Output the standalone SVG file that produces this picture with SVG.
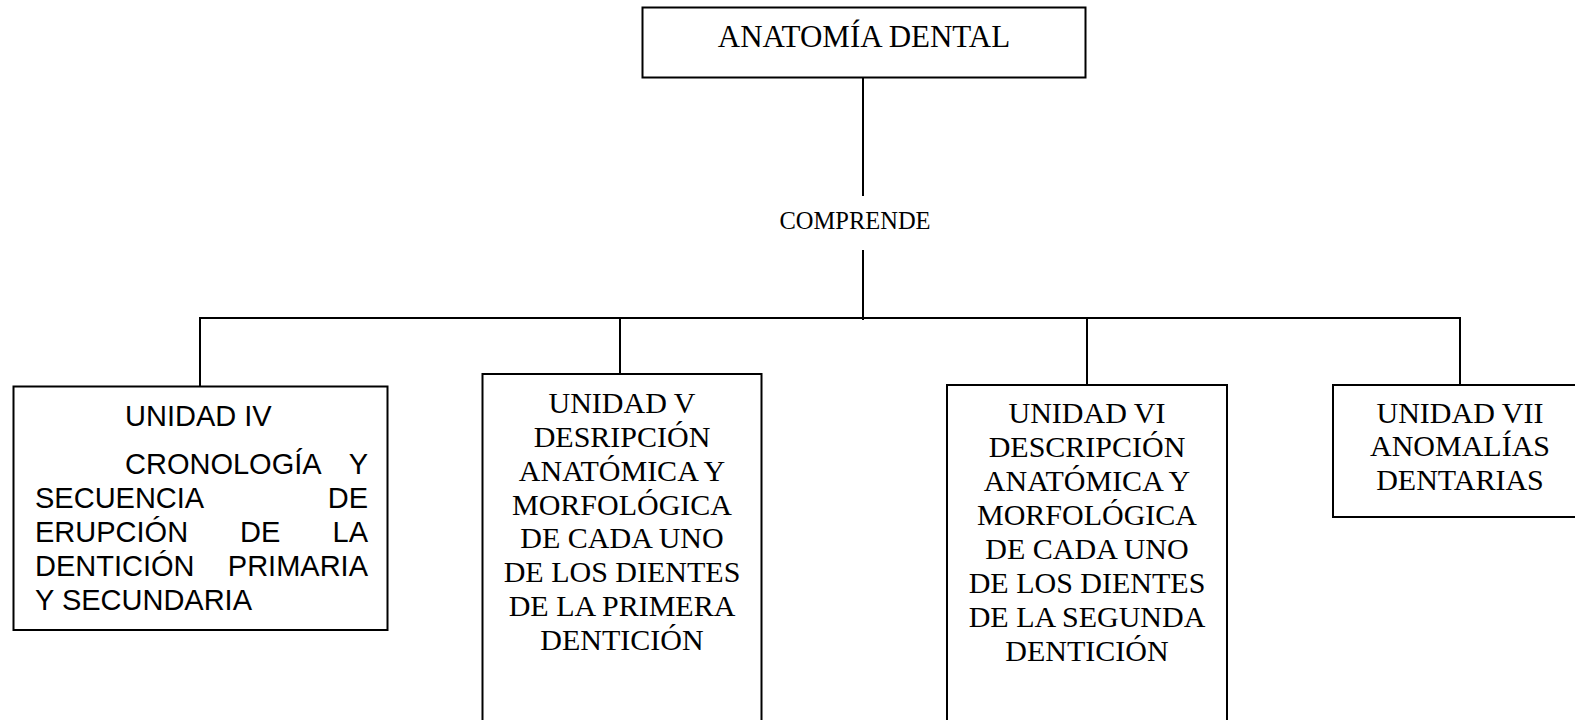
<svg xmlns="http://www.w3.org/2000/svg" width="1575" height="720" viewBox="0 0 1575 720">
<style>
.box{fill:#fff;stroke:#000;stroke-width:2}
.ln{stroke:#000;stroke-width:2;fill:none}
.tm{font-family:"Liberation Serif","Times New Roman",serif;font-size:30px;fill:#000;text-anchor:middle}
.ar{font-family:"Liberation Sans",Arial,sans-serif;font-size:29px;fill:#000}
.e{text-anchor:end}
</style>
<rect width="1575" height="720" fill="#fff"/>
<g id="connectors">
<line class="ln" x1="863" y1="77" x2="863" y2="196"/>
<line class="ln" x1="863" y1="250" x2="863" y2="320"/>
<line class="ln" x1="199" y1="318" x2="1461" y2="318"/>
<line class="ln" x1="200" y1="317" x2="200" y2="386"/>
<line class="ln" x1="620" y1="317" x2="620" y2="374"/>
<line class="ln" x1="1087" y1="317" x2="1087" y2="385"/>
<line class="ln" x1="1460" y1="317" x2="1460" y2="385"/>
</g>
<g id="title">
<rect class="box" x="642.5" y="7.5" width="443" height="70"/>
<text class="tm" x="864" y="47" style="font-size:31px">ANATOMÍA DENTAL</text>
</g>
<g id="comprende">
<text class="tm" x="855" y="229" style="font-size:24.5px">COMPRENDE</text>
</g>
<g id="unidad4">
<rect class="box" x="13.5" y="386.5" width="374" height="243.5"/>
<text class="ar" x="125" y="426">UNIDAD IV</text>
<text class="ar" x="125" y="474">CRONOLOGÍA</text>
<text class="ar e" x="368" y="474">Y</text>
<text class="ar" x="35" y="508">SECUENCIA</text>
<text class="ar e" x="368" y="508">DE</text>
<text class="ar" x="35" y="542">ERUPCIÓN</text>
<text class="ar" x="240" y="542">DE</text>
<text class="ar e" x="368" y="542">LA</text>
<text class="ar" x="35" y="576">DENTICIÓN</text>
<text class="ar e" x="368" y="576">PRIMARIA</text>
<text class="ar" x="35" y="610">Y SECUNDARIA</text>
</g>
<g id="unidad5">
<rect class="box" x="482.5" y="374" width="279" height="360"/>
<text class="tm" x="622" y="413">UNIDAD V</text>
<text class="tm" x="622" y="447">DESRIPCIÓN</text>
<text class="tm" x="622" y="481">ANATÓMICA Y</text>
<text class="tm" x="622" y="515">MORFOLÓGICA</text>
<text class="tm" x="622" y="548">DE CADA UNO</text>
<text class="tm" x="622" y="582">DE LOS DIENTES</text>
<text class="tm" x="622" y="616">DE LA PRIMERA</text>
<text class="tm" x="622" y="650">DENTICIÓN</text>
</g>
<g id="unidad6">
<rect class="box" x="947" y="385" width="280" height="350"/>
<text class="tm" x="1087" y="423">UNIDAD VI</text>
<text class="tm" x="1087" y="457">DESCRIPCIÓN</text>
<text class="tm" x="1087" y="491">ANATÓMICA Y</text>
<text class="tm" x="1087" y="525">MORFOLÓGICA</text>
<text class="tm" x="1087" y="559">DE CADA UNO</text>
<text class="tm" x="1087" y="593">DE LOS DIENTES</text>
<text class="tm" x="1087" y="627">DE LA SEGUNDA</text>
<text class="tm" x="1087" y="661">DENTICIÓN</text>
</g>
<g id="unidad7">
<rect class="box" x="1333" y="385" width="260" height="132"/>
<text class="tm" x="1460" y="423">UNIDAD VII</text>
<text class="tm" x="1460" y="456">ANOMALÍAS</text>
<text class="tm" x="1460" y="490">DENTARIAS</text>
</g>
</svg>
